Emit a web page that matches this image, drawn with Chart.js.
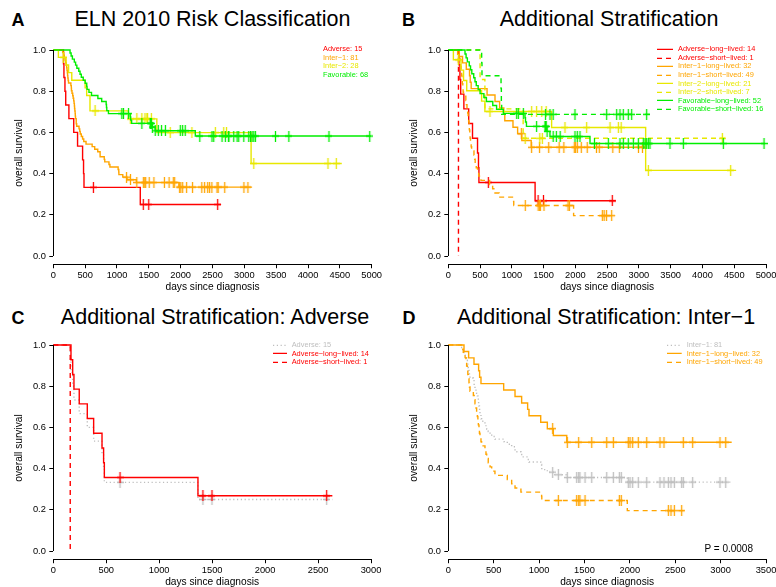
<!DOCTYPE html>
<html>
<head>
<meta charset="utf-8">
<script src="https://cdn.jsdelivr.net/npm/chart.js@4.4.0/dist/chart.umd.min.js"></script>
<style>
html, body { margin: 0; padding: 0; background: #fff; }
#page { position: relative; width: 776px; height: 587px; overflow: hidden; font-family: 'Liberation Sans', Arial, sans-serif; }
canvas { position: absolute; }
.title, .tag { position: absolute; transform: translate(-50%, -50%); line-height: 1; white-space: nowrap; color: #000; }
.title { font-size: 21.5px; }
.tag { font-size: 18px; font-weight: bold; }
.leg { position: absolute; font-size: 7.4px; line-height: 1; white-space: nowrap; transform: translateY(-50%); }
.leg svg { position: absolute; top: 50%; margin-top: -2px; }
#pval { position: absolute; right: 23px; top: 544px; font-size: 10px; line-height: 1; }
</style>
</head>
<body>
<div id="page">
  <div class="tag" style="left:18px;top:20px">A</div>
  <div class="title" style="left:212.5px;top:20px">ELN 2010 Risk Classification</div>
  <div class="tag" style="left:408.5px;top:20px">B</div>
  <div class="title" style="left:609px;top:20px">Additional Stratification</div>
  <div class="tag" style="left:18px;top:318px">C</div>
  <div class="title" style="left:215px;top:318px">Additional Stratification: Adverse</div>
  <div class="tag" style="left:409px;top:318px">D</div>
  <div class="title" style="left:606px;top:318px">Additional Stratification: Inter−1</div>

  <canvas id="chartA" width="388" height="272" style="left:0;top:30px"></canvas>
  <canvas id="chartB" width="388" height="272" style="left:388px;top:30px"></canvas>
  <canvas id="chartC" width="388" height="272" style="left:0;top:325px"></canvas>
  <canvas id="chartD" width="388" height="272" style="left:388px;top:325px"></canvas>

  <div id="legends"></div>
  <div id="pval">P = 0.0008</div>
</div>
<script>
// follow-up in days since diagnosis: event (death) times, censoring times, last follow-up
const advLongEvents = [167, 183, 195, 245, 321, 381, 460, 475, 482, 1366];
const advLongCensored = [630, 1413, 1498, 2581];
const advLongEnd = 2635;

const advShortEvents = [160];
const advShortCensored = [];
const advShortEnd = 160;

const int1LongEvents = [173, 224, 283, 334, 345, 360, 610, 735, 808, 874, 889, 1018, 1091, 1157, 1305];
const int1LongCensored = [1150, 1311, 1436, 1580, 1745, 1818, 1983, 2002, 2031, 2093, 2186, 2332, 2376, 2589, 2692, 2993, 3056];
const int1LongEnd = 3122;

const int1ShortEvents = [147, 165, 185, 195, 202, 210, 215, 220, 228, 233, 239, 276, 285, 294, 305, 312, 320, 326, 331,
  338, 343, 349, 360, 367, 404, 415, 423, 440, 460, 478, 514, 650, 698, 735, 800, 1028, 1030, 1972];
const int1ShortCensored = [1212, 1414, 1436, 1450, 1506, 1884, 1906, 2424, 2453, 2490, 2571];
const int1ShortEnd = 2637;

const int2LongEvents = [80, 200, 240, 290, 524, 576, 1626, 3106];
const int2LongCensored = [157, 656, 1312, 1390, 1470, 1540, 1836, 2177, 2545, 2676, 2720, 3148, 4444];
const int2LongEnd = 4530;

const int2ShortEvents = [500, 576, 1178];
const int2ShortCensored = [1210, 1440, 1480, 4313];
const int2ShortEnd = 4380;

const favLongEvents = [263, 280, 300, 330, 350, 370, 400, 420, 440, 470, 500, 560, 600, 700, 760, 866,
  1207, 1215, 1230, 1550, 1600, 2230];
const favLongCensored = [1076, 1102, 1181, 1390, 1522, 1530, 1540, 1555, 1650, 1700, 1760, 1994, 2030, 2072,
  2300, 2519, 2702, 2755, 2833, 2912, 2991, 3069, 3096, 3122, 3148, 3174, 3489, 3699, 4329, 4969];
const favLongEnd = 4985;

const favShortEvents = [525, 530, 830, 835, 840];
const favShortCensored = [1530, 1600, 1650, 1994, 2492, 2650, 2702, 2754, 2833, 2886, 3122];
const favShortEnd = 3200;

const yTicks = [0, 0.2, 0.4, 0.6, 0.8, 1.0];
const xTicks5000 = [0, 500, 1000, 1500, 2000, 2500, 3000, 3500, 4000, 4500, 5000];
const xTicks3000 = [0, 500, 1000, 1500, 2000, 2500, 3000];
const xTicks3500 = [0, 500, 1000, 1500, 2000, 2500, 3000, 3500];

const FONT = "'Liberation Sans', Arial, sans-serif";
const RED = '#ff0000', ORANGE = '#ffa500', YELLOW = '#e8e800', GREEN = '#00ee00', GRAY = '#bebebe';
const SOLID = [], DASHED = [5, 4], DOTTED = [1.2, 2.6];
const LINE_W = 1.4;

function group(events, censored, end) {
  return { events, censored, end, n: events.length + censored.length };
}
function pool(a, b) {
  return group([...a.events, ...b.events], [...a.censored, ...b.censored], Math.max(a.end, b.end));
}

const advLong = group(advLongEvents, advLongCensored, advLongEnd);
const advShort = group(advShortEvents, advShortCensored, advShortEnd);
const int1Long = group(int1LongEvents, int1LongCensored, int1LongEnd);
const int1Short = group(int1ShortEvents, int1ShortCensored, int1ShortEnd);
const int2Long = group(int2LongEvents, int2LongCensored, int2LongEnd);
const int2Short = group(int2ShortEvents, int2ShortCensored, int2ShortEnd);
const favLong = group(favLongEvents, favLongCensored, favLongEnd);
const favShort = group(favShortEvents, favShortCensored, favShortEnd);
const adverse = pool(advLong, advShort);
const inter1 = pool(int1Long, int1Short);
const inter2 = pool(int2Long, int2Short);
const favorable = pool(favLong, favShort);

// Kaplan-Meier product-limit estimate: step points plus censor positions
function km(g) {
  const times = [...new Set([...g.events, ...g.censored])].sort((a, b) => a - b);
  let atRisk = g.n, s = 1;
  const steps = [{ x: 0, y: 1 }], marks = [];
  for (const t of times) {
    const d = g.events.filter(e => e === t).length;
    const c = g.censored.filter(e => e === t).length;
    if (d) { s *= (atRisk - d) / atRisk; steps.push({ x: t, y: s }); }
    if (c) marks.push({ x: t, y: s });
    atRisk -= d + c;
  }
  steps.push({ x: g.end, y: s });
  return { steps, marks };
}

function crossMark(color) {
  const c = document.createElement('canvas');
  c.width = 7; c.height = 11;
  const g = c.getContext('2d');
  g.strokeStyle = color; g.lineWidth = 1.3;
  g.beginPath();
  g.moveTo(3.5, 0); g.lineTo(3.5, 11);
  g.moveTo(0, 5.5); g.lineTo(7, 5.5);
  g.stroke();
  return c;
}

// axis lines only over the tick range, like base R graphics
const rAxes = {
  id: 'rAxes',
  afterDraw(chart) {
    const { ctx, scales: { x, y } } = chart;
    const ax = Math.round(x.getPixelForValue(0)) + 0.5;
    const ay = Math.round(y.bottom) + 0.5;
    ctx.save();
    ctx.strokeStyle = '#000';
    ctx.lineWidth = 1;
    ctx.beginPath();
    ctx.moveTo(ax, y.getPixelForValue(yTicks[0]));
    ctx.lineTo(ax, y.getPixelForValue(yTicks[yTicks.length - 1]));
    ctx.moveTo(x.getPixelForValue(0), ay);
    ctx.lineTo(x.getPixelForValue(x.max), ay);
    ctx.stroke();
    ctx.restore();
  }
};

function drawPanel(id, box, xTicks, curves) {
  const unit = box.y0 - box.y1;
  const chartTop = box.y1 - 0.04 * unit, chartBottom = box.y0 + 0.04 * unit;
  const xAxisH = 30;
  const datasets = [];
  curves.forEach((c, k) => {
    const fit = km(c.g);
    datasets.push({
      data: fit.steps, borderColor: c.color, borderWidth: LINE_W, borderDash: c.dash,
      stepped: 'before', pointRadius: 0, fill: false, clip: false, order: -2 * k
    });
    datasets.push({
      data: fit.marks, showLine: false, pointStyle: crossMark(c.color),
      pointRadius: 4, clip: false, order: -2 * k - 1
    });
  });
  return new Chart(document.getElementById(id), {
    type: 'line',
    data: { datasets },
    plugins: [rAxes],
    options: {
      responsive: false,
      animation: false,
      events: [],
      layout: {
        padding: {
          left: 0,
          top: chartTop - box.top,
          right: box.left + box.w - box.right,
          bottom: box.top + box.h - (chartBottom + xAxisH)
        }
      },
      plugins: { legend: { display: false }, tooltip: { enabled: false } },
      scales: {
        x: {
          type: 'linear', min: 0, max: xTicks[xTicks.length - 1],
          afterBuildTicks: s => { s.ticks = xTicks.map(v => ({ value: v })); },
          afterFit: s => { s.height = xAxisH; s.paddingLeft = 0; s.paddingRight = 0; },
          grid: { drawOnChartArea: false, drawTicks: true, tickLength: 4, color: '#000' },
          border: { display: false },
          ticks: { autoSkip: false, maxRotation: 0, padding: 2, color: '#000', font: { family: FONT, size: 9.3 }, callback: v => String(v) },
          title: { display: true, text: 'days since diagnosis', color: '#000', font: { family: FONT, size: 10.2 }, padding: { top: 0, bottom: 0.9 } }
        },
        y: {
          min: -0.04, max: 1.04,
          afterBuildTicks: s => { s.ticks = yTicks.map(v => ({ value: v })); },
          afterFit: s => { s.width = box.left0 - box.left; s.paddingTop = 0; s.paddingBottom = 0; },
          grid: { drawOnChartArea: false, drawTicks: true, tickLength: 4, color: '#000' },
          border: { display: false },
          ticks: { padding: 3.5, color: '#000', font: { family: FONT, size: 9.3 }, callback: v => v.toFixed(1) },
          title: { display: true, text: 'overall survival', color: '#000', font: { family: FONT, size: 10.2 }, padding: { top: box.left0 - 34 - box.left - 6.1, bottom: 0 } }
        }
      }
    }
  });
}

const boxA = { left: 0, top: 30, w: 388, h: 272, left0: 53.3, right: 371.7, y1: 50, y0: 256 };
const boxB = { left: 388, top: 30, w: 388, h: 272, left0: 448.3, right: 766, y1: 50, y0: 256 };
const boxC = { left: 0, top: 325, w: 388, h: 272, left0: 53.3, right: 371, y1: 345, y0: 551 };
const boxD = { left: 388, top: 325, w: 388, h: 272, left0: 448.3, right: 766, y1: 345, y0: 551 };

const curvesA = [
  { g: adverse, name: 'Adverse', color: RED, dash: SOLID },
  { g: inter1, name: 'Inter−1', color: ORANGE, dash: SOLID },
  { g: inter2, name: 'Inter−2', color: YELLOW, dash: SOLID },
  { g: favorable, name: 'Favorable', color: GREEN, dash: SOLID }
];
const curvesB = [
  { g: advLong, name: 'Adverse−long−lived', color: RED, dash: SOLID },
  { g: advShort, name: 'Adverse−short−lived', color: RED, dash: DASHED },
  { g: int1Long, name: 'Inter−1−long−lived', color: ORANGE, dash: SOLID },
  { g: int1Short, name: 'Inter−1−short−lived', color: ORANGE, dash: DASHED },
  { g: int2Long, name: 'Inter−2−long−lived', color: YELLOW, dash: SOLID },
  { g: int2Short, name: 'Inter−2−short−lived', color: YELLOW, dash: DASHED },
  { g: favLong, name: 'Favorable−long−lived', color: GREEN, dash: SOLID },
  { g: favShort, name: 'Favorable−short−lived', color: GREEN, dash: DASHED }
];
const curvesC = [
  { g: adverse, name: 'Adverse', color: GRAY, dash: DOTTED },
  { g: advLong, name: 'Adverse−long−lived', color: RED, dash: SOLID },
  { g: advShort, name: 'Adverse−short−lived', color: RED, dash: DASHED }
];
const curvesD = [
  { g: inter1, name: 'Inter−1', color: GRAY, dash: DOTTED },
  { g: int1Long, name: 'Inter−1−long−lived', color: ORANGE, dash: SOLID },
  { g: int1Short, name: 'Inter−1−short−lived', color: ORANGE, dash: DASHED }
];

drawPanel('chartA', boxA, xTicks5000, curvesA);
drawPanel('chartB', boxB, xTicks5000, curvesB);
drawPanel('chartC', boxC, xTicks3000, curvesC);
drawPanel('chartD', boxD, xTicks3500, curvesD);

// legends: optional line sample, then "name: n"
function legend(curves, textX, firstY, step, sampleX) {
  const holder = document.getElementById('legends');
  curves.forEach((c, i) => {
    const row = document.createElement('div');
    row.className = 'leg';
    row.style.left = textX + 'px';
    row.style.top = (firstY + i * step) + 'px';
    row.style.color = c.color;
    row.textContent = c.name + ': ' + c.g.n;
    if (sampleX !== undefined) {
      const w = textX - 5 - sampleX;
      const svg = document.createElementNS('http://www.w3.org/2000/svg', 'svg');
      svg.setAttribute('width', w); svg.setAttribute('height', 4);
      svg.style.left = (sampleX - textX) + 'px';
      const ln = document.createElementNS('http://www.w3.org/2000/svg', 'line');
      ln.setAttribute('x1', 0); ln.setAttribute('x2', w);
      ln.setAttribute('y1', 2); ln.setAttribute('y2', 2);
      ln.setAttribute('stroke', c.color); ln.setAttribute('stroke-width', 1.2);
      if (c.dash.length) ln.setAttribute('stroke-dasharray', c.dash.join(' '));
      svg.appendChild(ln);
      row.appendChild(svg);
    }
    holder.appendChild(row);
  });
}
legend(curvesA, 323, 49.3, 8.45);
legend(curvesB, 678, 49.3, 8.57, 657);
legend(curvesC, 291.7, 345, 8.65, 272.7);
legend(curvesD, 686.7, 345, 8.65, 667);
</script>
</body>
</html>
